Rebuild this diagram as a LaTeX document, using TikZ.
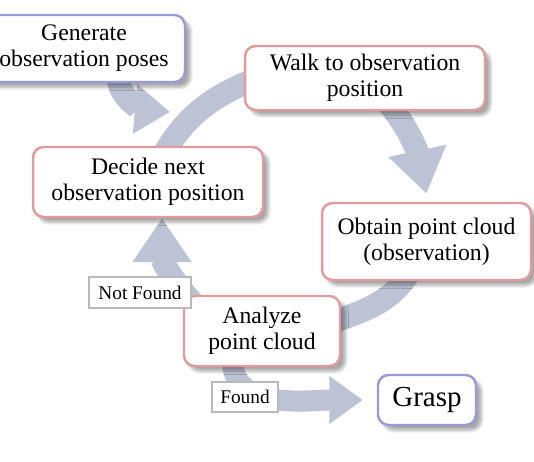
\documentclass[tikz,border=0pt]{standalone}
\usepackage{fontspec}
\setmainfont{Liberation Serif}
\usetikzlibrary{arrows.meta, positioning, shadows.blur}
\definecolor{flowgray}{HTML}{BCC3D4}
\definecolor{stepred}{HTML}{E39A9C}
\definecolor{stepblue}{HTML}{9A9ADA}
\pgfdeclarelayer{back}
\pgfsetlayers{back,main}

\begin{document}
\begin{tikzpicture}[x=0.02cm, y=0.02cm,
  box/.style={rectangle, rounded corners=6pt, fill=white, line width=1.4pt, align=center,
    font=\fontsize{13.5}{15}\selectfont,
    blur shadow={shadow xshift=3pt, shadow yshift=-3pt, shadow blur steps=6, shadow opacity=35}},
  redbox/.style={box, draw=stepred},
  bluebox/.style={box, draw=stepblue},
  tag/.style={rectangle, draw=gray!55, fill=white, line width=0.8pt, font=\fontsize{11}{13}\selectfont, inner sep=2pt},
  band/.style={line width=13pt, draw=flowgray},
  flow/.style={band, -{Triangle[width=32pt, length=25pt]}}]
  \useasboundingbox (0,0) rectangle (534,462);

  % steps
  \node[bluebox, minimum width=4.04cm, minimum height=1.34cm] (gen) at (84,413.5) {Generate\\observation poses};
  \node[redbox, minimum width=4.8cm, minimum height=1.28cm] (walk) at (365,384) {Walk to observation\\position};
  \node[redbox, minimum width=4.6cm, minimum height=1.4cm] (dec) at (148,280) {Decide next\\observation position};
  \node[redbox, minimum width=4.18cm, minimum height=1.54cm] (obt) at (426.5,220.5) {Obtain point cloud\\(observation)};
  \node[redbox, minimum width=3.12cm, minimum height=1.4cm] (ana) at (262,131) {Analyze\\point cloud};
  \node[bluebox, minimum width=1.96cm, minimum height=1cm, font=\fontsize{16.5}{18}\selectfont] (grasp) at (427,62) {Grasp};

  % branch labels
  \node[tag, minimum width=2.04cm, minimum height=.62cm] (nf) at (140,169.5) {Not Found};
  \node[tag, minimum width=1.32cm, minimum height=.6cm] (fnd) at (245,65) {Found};

  \coordinate (entry) at (170,350);

  % loop arrows behind the boxes
  \begin{pgfonlayer}{back}
    \draw[flow] ([shift={(25,-24)}]ana.north west) to[out=135, in=-90] ([xshift=.28cm]dec.south);
    \draw[band] ([shift={(12,-15)}]dec.north) to[out=62, in=200] ([shift={(20,2)}]walk.west);
    \draw[flow] ([shift={(20,12)}]walk.south) to[out=-50, in=102] ([yshift=.16cm]obt.north);
    \draw[band] ([shift={(-15,12)}]obt.south) to[out=-120, in=20] ([shift={(-20,5)}]ana.east);
    \draw[flow, -{Triangle[width=27pt, length=20pt]}] ([shift={(34,8)}]gen.south) to[out=-90, in=175] (entry);
    \draw[flow, line width=12pt, -{Triangle[width=26pt, length=19pt]}] ([shift={(-30,9)}]ana.south) to[out=-90, in=180] ([xshift=-.28cm]grasp.west);
  \end{pgfonlayer}
\end{tikzpicture}
\end{document}
